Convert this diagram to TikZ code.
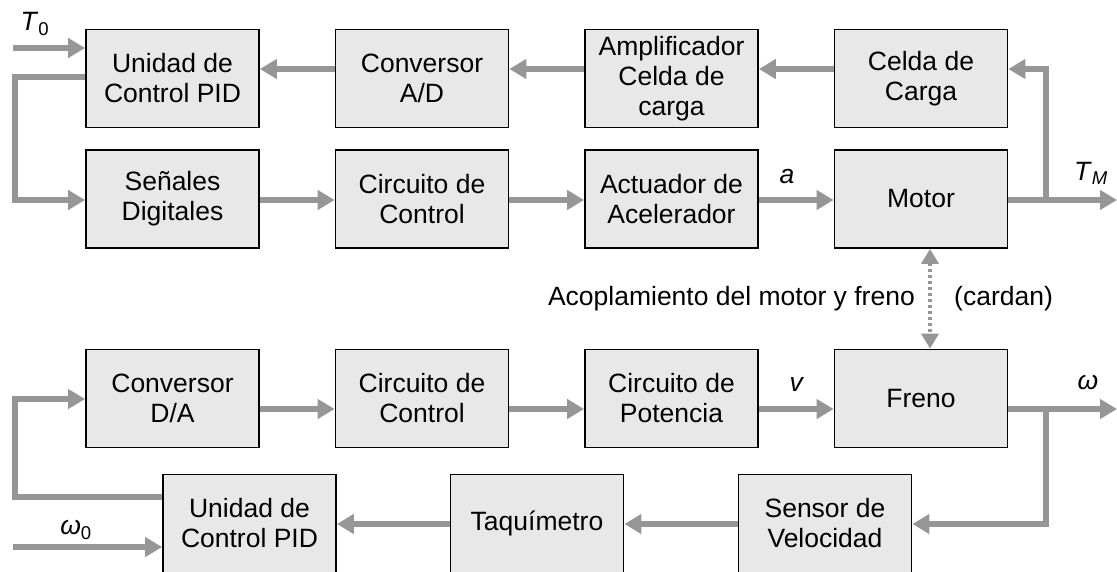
\documentclass[tikz,border=0pt]{standalone}
\usepackage{fontspec}
\setmainfont{Liberation Sans}
\usetikzlibrary{arrows.meta}
\definecolor{arrgray}{RGB}{150,150,150}
\definecolor{boxfill}{RGB}{232,232,232}
\begin{document}
\begin{tikzpicture}[x=1pt,y=-1pt,
  blk/.style={draw=black, line width=1.8pt, fill=boxfill, minimum width=173pt, minimum height=98pt, inner sep=0pt, align=center, font=\fontsize{26.5}{30}\selectfont},
  arr/.style={draw=arrgray, line width=6pt, -{Triangle[length=17pt,width=19pt]}},
  dotarr/.style={draw=arrgray, line width=4pt, dash pattern=on 3pt off 3pt, {Triangle[length=15pt,width=17pt]}-{Triangle[length=15pt,width=17pt]}},
  lbl/.style={font=\fontsize{26.5}{30}\selectfont, inner sep=0pt}]
\useasboundingbox (0,0) rectangle (1117,571);
\clip (0,0) rectangle (1117,571);
\fill[white] (0,0) rectangle (1117,571);

% row 1
\node[blk] (pid1) at (172.5,78.5) {Unidad de\\Control PID};
\node[blk] (adc) at (422,78.5) {Conversor\\A/D};
\node[blk] (amp) at (671.5,78.5) {Amplificador\\Celda de\\carga};
\node[blk] (celda) at (921,78.5) {Celda de\\Carga};
% row 2
\node[blk] (sen) at (172.5,199) {Señales\\Digitales};
\node[blk] (cc1) at (422,199) {Circuito de\\Control};
\node[blk] (act) at (671.5,199) {Actuador de\\Acelerador};
\node[blk] (motor) at (921,199) {Motor};
% row 3
\node[blk] (dac) at (172.5,398.5) {Conversor\\D/A};
\node[blk] (cc2) at (422,398.5) {Circuito de\\Control};
\node[blk] (pot) at (671.5,398.5) {Circuito de\\Potencia};
\node[blk] (freno) at (921,398.5) {Freno};
% row 4
\node[blk] (pid2) at (249.5,523.5) {Unidad de\\Control PID};
\node[blk] (taq) at (537,523.5) {Taquímetro};
\node[blk] (sensor) at (825,523.5) {Sensor de\\Velocidad};

% level coordinates
\coordinate (ya) at (0,69);
\coordinate (yb) at (0,200);
\coordinate (yc) at (0,409);
\coordinate (yd) at (0,524);

% top loop
\coordinate (t0) at (13,48);
\draw[arr] (t0) -- (t0 -| pid1.west);
\draw[arr] (celda.west |- ya) -- (amp.east |- ya);
\draw[arr] (amp.west |- ya) -- (adc.east |- ya);
\draw[arr] (adc.west |- ya) -- (pid1.east |- ya);
\coordinate (lc1) at (15,77);
\coordinate (lc2) at (15,200);
\draw[arr] (pid1.west |- lc1) -- (lc1) -- (lc2) -- (lc2 -| sen.west);
\draw[arr] (sen.east |- yb) -- (cc1.west |- yb);
\draw[arr] (cc1.east |- yb) -- (act.west |- yb);
\draw[arr] (act.east |- yb) -- (motor.west |- yb);
\coordinate (tm) at (1117,200);
\draw[arr] (motor.east |- yb) -- (tm);
\coordinate (br1) at (1046,200);
\draw[arr] (br1) -- (br1 |- ya) -- (celda.east |- ya);

% coupling
\coordinate (dc) at (930,0);
\draw[dotarr] (motor.south -| dc) -- (freno.north -| dc);

% bottom loop
\coordinate (lc3) at (15,497);
\coordinate (lc4) at (15,399);
\draw[arr] (pid2.west |- lc3) -- (lc3) -- (lc4) -- (lc4 -| dac.west);
\draw[arr] (dac.east |- yc) -- (cc2.west |- yc);
\draw[arr] (cc2.east |- yc) -- (pot.west |- yc);
\draw[arr] (pot.east |- yc) -- (freno.west |- yc);
\coordinate (wo) at (1117,409);
\draw[arr] (freno.east |- yc) -- (wo);
\coordinate (br2) at (1046,409);
\draw[arr] (br2) -- (br2 |- yd) -- (sensor.east |- yd);
\draw[arr] (sensor.west |- yd) -- (taq.east |- yd);
\draw[arr] (taq.west |- yd) -- (pid2.east |- yd);
\coordinate (w0) at (13,547);
\draw[arr] (w0) -- (w0 -| pid2.west);

% labels
\node[lbl] (lt0) at (35,24) {\textit{T}\textsubscript{0}};
\node[lbl] (la) at (787,176) {\textit{a}};
\node[lbl] (ltm) at (1091,173) {\textit{T}\textsubscript{\textit{M}}};
\node[lbl] (lv) at (797,384) {\textit{v}};
\node[lbl] (lw) at (1088,382) {\textit{ω}};
\node[lbl] (lw0) at (76,530) {\textit{ω}\textsubscript{0}};
\node[lbl, anchor=base east] (lac) at (915,305) {Acoplamiento del motor y freno};
\node[lbl, anchor=base west] (lcd) at (954,305) {(cardan)};
\end{tikzpicture}
\end{document}
